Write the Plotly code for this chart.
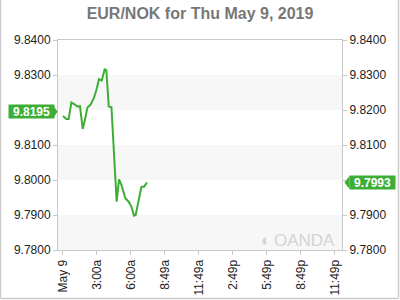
import plotly.graph_objects as go

# Data (hours after midnight, EUR/NOK rate)
hours = [0.0, 0.30, 0.50, 0.74, 1.03, 1.27, 1.50, 1.74, 1.92, 2.16, 2.45, 2.74, 2.95,
         3.18, 3.42, 3.68, 3.83, 4.04, 4.28, 4.57, 4.74, 4.95, 5.16, 5.51, 5.80,
         6.04, 6.27, 6.42, 6.69, 6.93, 7.16, 7.42]
rates = [9.8183, 9.8174, 9.8174, 9.8221, 9.8216, 9.8210, 9.8211, 9.8146, 9.8169, 9.8207,
         9.8216, 9.8235, 9.8257, 9.8288, 9.8284, 9.8316, 9.8314, 9.8210, 9.8208, 9.8024,
         9.7938, 9.8002, 9.7986, 9.7948, 9.7938, 9.7924, 9.7898, 9.7900, 9.7938, 9.7981,
         9.7981, 9.7993]
open_rate = 9.8195
last_rate = 9.7993
tick_hours = [0, 3, 6, 9, 12, 15, 18, 21, 24]
tick_labels = ["May 9", "3:00a", "6:00a", "8:49a", "11:49a", "2:49p", "5:49p", "8:49p", "11:49p"]
y_ticks = [9.78, 9.79, 9.80, 9.81, 9.82, 9.83, 9.84]
band_ranges = [(9.78, 9.79), (9.80, 9.81), (9.82, 9.83)]

GREEN = "#3cae35"
AXIS = "#c8c8c8"
FONT = "Liberation Sans, Arial, sans-serif"

L, R, T, B = 58, 58, 40, 50
W, H = 400, 300
pw, ph = W - L - R, H - T - B

def px_x(p):
    return (p - L) / pw

def px_y(p):
    return (H - B - p) / ph

def y_to_px(v):
    return T + (9.84 - v) / 0.06 * ph

fig = go.Figure()
fig.add_trace(go.Scatter(x=hours, y=rates, mode="lines",
                         line=dict(color=GREEN, width=2), hoverinfo="skip",
                         showlegend=False))
fig.add_trace(go.Scatter(x=[hours[0]], y=[rates[0]], yaxis="y2", mode="markers",
                         marker=dict(opacity=0), showlegend=False, hoverinfo="skip"))

shapes = []
for lo, hi in band_ranges:
    shapes.append(dict(type="rect", xref="paper", yref="y", x0=0, x1=1, y0=lo, y1=hi,
                       fillcolor="#f7f7f7", line=dict(width=0), layer="below"))
# outer page border (left, right, bottom)
for x0, y0, x1, y1 in [(0.5, 0, 0.5, 298.5), (398.5, 0, 398.5, 298.5), (0.5, 298.5, 398.5, 298.5)]:
    shapes.append(dict(type="line", xref="paper", yref="paper",
                       x0=px_x(x0), x1=px_x(x1), y0=px_y(y0), y1=px_y(y1),
                       line=dict(color="#cccccc", width=1.5)))
# arrow tips for price labels
yo = y_to_px(open_rate)
shapes.append(dict(type="path", xref="paper", yref="paper",
                   path=f"M {px_x(53)} {px_y(yo-6.5)} L {px_x(57.5)} {px_y(yo)} L {px_x(53)} {px_y(yo+6.5)} Z",
                   fillcolor=GREEN, line=dict(width=0)))
yl = y_to_px(last_rate)
shapes.append(dict(type="path", xref="paper", yref="paper",
                   path=f"M {px_x(349.5)} {px_y(yl-6.5)} L {px_x(344.5)} {px_y(yl)} L {px_x(349.5)} {px_y(yl+6.5)} Z",
                   fillcolor=GREEN, line=dict(width=0)))

annotations = [
    dict(xref="paper", yref="y", x=px_x(8), y=open_rate, xanchor="left", yanchor="middle",
         text=f"<b>{open_rate:.4f}</b>", showarrow=False, bgcolor=GREEN,
         font=dict(family=FONT, size=12, color="white"), borderpad=0, width=45, height=13),
    dict(xref="paper", yref="y", x=px_x(349), y=last_rate, xanchor="left", yanchor="middle",
         text=f"<b>{last_rate:.4f}</b>", showarrow=False, bgcolor=GREEN,
         font=dict(family=FONT, size=12, color="white"), borderpad=0, width=45, height=13),
    dict(xref="paper", yref="paper", x=px_x(337), y=px_y(240), xanchor="right", yanchor="middle",
         text="◖ OANDA", showarrow=False,
         font=dict(family=FONT, size=17, color="#d4d4d4")),
]

def fmt(v):
    return f"{v:.4f}"

left_text = ["" if abs(v - 9.82) < 1e-9 else fmt(v) for v in y_ticks]
right_text = ["" if abs(v - 9.80) < 1e-9 else fmt(v) for v in y_ticks]

axis_common = dict(range=[9.78, 9.84], tickvals=y_ticks,
                   showgrid=False, zeroline=False, showline=True, linecolor=AXIS,
                   ticks="outside", ticklen=4, tickcolor=AXIS, automargin=False,
                   tickfont=dict(family=FONT, size=12, color="#222222"), fixedrange=True)

fig.update_layout(
    width=W, height=H,
    margin=dict(l=L, r=R, t=T, b=B),
    paper_bgcolor="white", plot_bgcolor="white",
    title=dict(text="<b>EUR/NOK for Thu May 9, 2019</b>", x=0.5, xanchor="center",
               y=1 - 13 / H, yanchor="middle",
               font=dict(family=FONT, size=16, color="#777777")),
    xaxis=dict(range=[-0.44, 24.64], tickvals=tick_hours, ticktext=tick_labels,
               tickangle=-90, showgrid=False, zeroline=False, showline=True,
               linecolor=AXIS, mirror=True, ticks="outside", ticklen=4, tickcolor=AXIS,
               automargin=False,
               tickfont=dict(family=FONT, size=12, color="#222222")),
    yaxis=dict(side="left", ticktext=left_text, **axis_common),
    yaxis2=dict(side="right", overlaying="y", ticktext=right_text, **axis_common),
    shapes=shapes, annotations=annotations,
    showlegend=False,
)

fig.write_html("out.html")
